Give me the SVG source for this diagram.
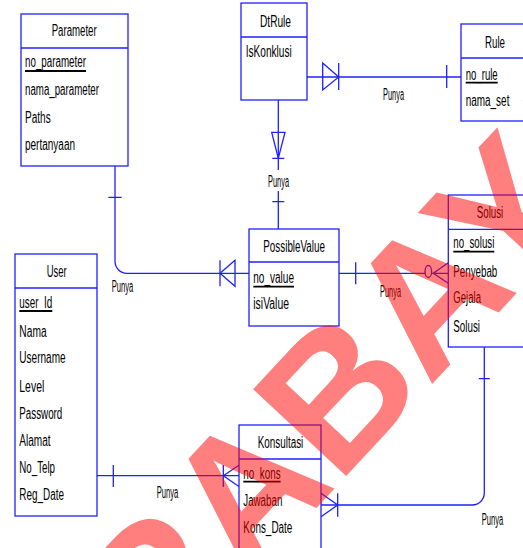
<svg xmlns="http://www.w3.org/2000/svg" width="523" height="548" viewBox="0 0 523 548">
<style>
.box{fill:#fff;stroke:#2020ff;stroke-width:1.3}
.ln{fill:none;stroke:#2020ff;stroke-width:1.3}
.t{font-family:"Liberation Sans",Arial,sans-serif;font-size:16px;fill:#000}
.u{stroke:#000;stroke-width:1.8}
.wm{font-family:"Liberation Sans",Arial,sans-serif;font-weight:bold;font-size:185px;fill:#ff0000;fill-opacity:0.5}
</style>
<rect width="523" height="548" fill="#fff"/>
<g id="connectors">
  <path class="ln" d="M307,77 H461"/>
  <path class="ln" d="M322.7,63 L338.7,77 L322.7,90 Z M338.7,63 V90 M446.7,65 V88"/>
  <path class="ln" d="M278.3,100 V170 M278.3,191 V229"/>
  <path class="ln" d="M271.7,132.3 L285,132.3 L278.3,158.3 Z M272.3,158.3 H284.3 M272.3,201.7 H284.3"/>
  <path class="ln" d="M115,166 V261 A12,12 0 0 0 127,273.3 H249"/>
  <path class="ln" d="M108.3,197.3 H121.7 M220,260.3 V286.3 M235,260.3 L220,273.3 L235,286.3 Z"/>
  <path class="ln" d="M339,273.3 H425"/>
  <ellipse class="ln" cx="428.3" cy="271.5" rx="3.3" ry="6"/>
  <path class="ln" d="M355.7,262.3 V284.3 M448.3,262.7 L433.3,273.3 L448.3,283.3 M431.6,273.3 H448.3"/>
  <path class="ln" d="M484.3,347 V493 A12,12 0 0 1 472.3,505 H321"/>
  <path class="ln" d="M478.8,378.7 H489.8 M321,493.3 L337.7,505 L321,516.7 M337.7,493.3 V516.7"/>
  <path class="ln" d="M96.7,475.7 H239.3 M113.3,465 V487 M239.3,465 L223.3,475.7 L239.3,486.7 M223.3,465 V487"/>
</g>
<g id="Parameter">
  <rect class="box" x="21" y="14" width="107" height="152"/>
  <path class="ln" d="M21,48 H128"/>
  <text class="t" x="51.7" y="36" textLength="45" lengthAdjust="spacingAndGlyphs">Parameter</text>
  <text class="t" x="25" y="67" textLength="61" lengthAdjust="spacingAndGlyphs">no_parameter</text>
  <path class="u" d="M25,71 H86"/>
  <text class="t" x="25" y="95" textLength="74" lengthAdjust="spacingAndGlyphs">nama_parameter</text>
  <text class="t" x="25" y="122.5" textLength="25.7" lengthAdjust="spacingAndGlyphs">Paths</text>
  <text class="t" x="25" y="150" textLength="50" lengthAdjust="spacingAndGlyphs">pertanyaan</text>
</g>
<g id="DtRule">
  <rect class="box" x="241" y="3" width="66" height="97"/>
  <path class="ln" d="M241,37 H307"/>
  <text class="t" x="260" y="27" textLength="31" lengthAdjust="spacingAndGlyphs">DtRule</text>
  <text class="t" x="245.7" y="56.7" textLength="46" lengthAdjust="spacingAndGlyphs">IsKonklusi</text>
</g>
<g id="Rule">
  <rect class="box" x="461" y="24" width="75" height="97"/>
  <path class="ln" d="M461,58 H536"/>
  <text class="t" x="485" y="47.7" textLength="20" lengthAdjust="spacingAndGlyphs">Rule</text>
  <text class="t" x="465.7" y="80" textLength="32" lengthAdjust="spacingAndGlyphs">no_rule</text>
  <path class="u" d="M465.7,82.7 H497.7"/>
  <text class="t" x="465.7" y="106" textLength="43.7" lengthAdjust="spacingAndGlyphs">nama_set</text>
</g>
<g id="PossibleValue">
  <rect class="box" x="249" y="229" width="90" height="97"/>
  <path class="ln" d="M249,262 H339"/>
  <text class="t" x="263.3" y="251.7" textLength="61.7" lengthAdjust="spacingAndGlyphs">PossibleValue</text>
  <text class="t" x="253.3" y="283.3" textLength="40.7" lengthAdjust="spacingAndGlyphs">no_value</text>
  <path class="u" d="M253.3,286.7 H294"/>
  <text class="t" x="253.3" y="309.3" textLength="35.7" lengthAdjust="spacingAndGlyphs">isiValue</text>
</g>
<g id="Solusi">
  <rect class="box" x="448.3" y="195" width="85" height="152"/>
  <path class="ln" d="M448.3,229.3 H533"/>
  <text class="t" x="476.7" y="218.3" textLength="26.6" lengthAdjust="spacingAndGlyphs">Solusi</text>
  <text class="t" x="453.3" y="248.3" textLength="41" lengthAdjust="spacingAndGlyphs">no_solusi</text>
  <path class="u" d="M453.3,251.7 H494.3"/>
  <text class="t" x="453.3" y="276.7" textLength="44" lengthAdjust="spacingAndGlyphs">Penyebab</text>
  <text class="t" x="453.3" y="303.3" textLength="27.7" lengthAdjust="spacingAndGlyphs">Gejala</text>
  <text class="t" x="453.3" y="331.7" textLength="26.7" lengthAdjust="spacingAndGlyphs">Solusi</text>
</g>
<g id="User">
  <rect class="box" x="15" y="254" width="82" height="262"/>
  <path class="ln" d="M15,288 H97"/>
  <text class="t" x="46.7" y="277.3" textLength="20" lengthAdjust="spacingAndGlyphs">User</text>
  <text class="t" x="19.3" y="307.7" textLength="33" lengthAdjust="spacingAndGlyphs">user_Id</text>
  <path class="u" d="M19.3,311 H52.3"/>
  <text class="t" x="19.3" y="336.7" textLength="27.3" lengthAdjust="spacingAndGlyphs">Nama</text>
  <text class="t" x="19.3" y="363.3" textLength="46.3" lengthAdjust="spacingAndGlyphs">Username</text>
  <text class="t" x="19.3" y="391.7" textLength="25" lengthAdjust="spacingAndGlyphs">Level</text>
  <text class="t" x="19.3" y="419" textLength="43" lengthAdjust="spacingAndGlyphs">Password</text>
  <text class="t" x="19.3" y="445.7" textLength="31.3" lengthAdjust="spacingAndGlyphs">Alamat</text>
  <text class="t" x="19.3" y="473.3" textLength="35.7" lengthAdjust="spacingAndGlyphs">No_Telp</text>
  <text class="t" x="19.3" y="500" textLength="44.7" lengthAdjust="spacingAndGlyphs">Reg_Date</text>
</g>
<g id="Konsultasi">
  <rect class="box" x="239" y="425" width="82" height="140"/>
  <path class="ln" d="M239,459 H321"/>
  <text class="t" x="257.7" y="448.3" textLength="45.6" lengthAdjust="spacingAndGlyphs">Konsultasi</text>
  <text class="t" x="243.3" y="479" textLength="37.3" lengthAdjust="spacingAndGlyphs">no_kons</text>
  <path class="u" d="M243.3,481.7 H280.6"/>
  <text class="t" x="243.3" y="506" textLength="39" lengthAdjust="spacingAndGlyphs">Jawaban</text>
  <text class="t" x="243.3" y="533.3" textLength="49" lengthAdjust="spacingAndGlyphs">Kons_Date</text>
</g>
<g id="labels">
  <text class="t" x="383" y="100" textLength="21" lengthAdjust="spacingAndGlyphs">Punya</text>
  <text class="t" x="268" y="186.7" textLength="21" lengthAdjust="spacingAndGlyphs">Punya</text>
  <text class="t" x="111.7" y="291.7" textLength="21.6" lengthAdjust="spacingAndGlyphs">Punya</text>
  <text class="t" x="380" y="296.7" textLength="21" lengthAdjust="spacingAndGlyphs">Punya</text>
  <text class="t" x="481.7" y="525" textLength="21.6" lengthAdjust="spacingAndGlyphs">Punya</text>
  <text class="t" x="156.7" y="498.3" textLength="21.6" lengthAdjust="spacingAndGlyphs">Punya</text>
</g>
<g id="watermark" transform="translate(-19.7,868.4) rotate(-47)">
  <text class="wm" x="0" y="0">SURABAYA</text>
</g>
</svg>
